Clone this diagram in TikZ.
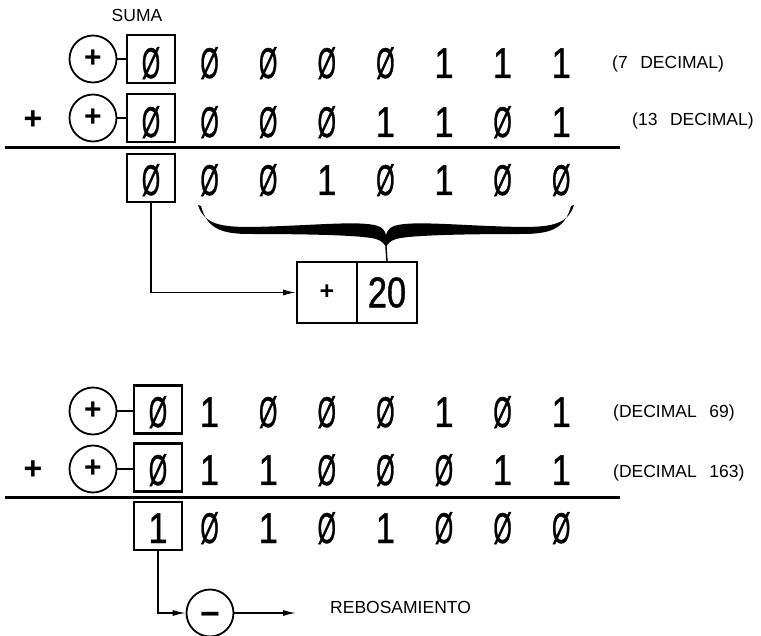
\documentclass[tikz,border=0pt]{standalone}
\usepackage{fontspec}
\usepackage{graphicx}
\setmainfont{Liberation Sans}
\newfontfamily\bitfont[FakeBold=1.1]{Liberation Sans}
\usetikzlibrary{arrows.meta}

% condensed register digits: slashed zero and one
\newcommand\bitz{\scalebox{0.55}[1]{Ø}}
\newcommand\bito{\scalebox{0.8}[1]{1}}
\newcommand\bitof[1]{\ifnum#1=0 \bitz\else\bito\fi}
\newcommand\wsp{\hspace{0.72em}}

\begin{document}
\begin{tikzpicture}[x=1pt,y=-1pt,
  bit/.style={font=\bitfont\fontsize{43}{43}\selectfont, inner sep=0pt, anchor=base},
  reg/.style={draw, line width=2.6pt, minimum width=48pt, minimum height=48pt, inner sep=0pt},
  sgn/.style={draw, circle, line width=1.8pt, minimum size=47pt, inner sep=0pt,
              font=\fontsize{30}{30}\selectfont\bfseries},
  opsign/.style={inner sep=0pt, font=\fontsize{32}{32}\selectfont\bfseries},
  lbl/.style={font=\fontsize{17.5}{18}\selectfont, inner sep=0pt, anchor=base west},
  cell/.style={draw, line width=2pt, minimum width=60pt, minimum height=61pt, inner sep=0pt},
  wire/.style={line width=1.4pt},
  arr/.style={wire, -{Latex[length=13pt,width=6pt]}},
  rule/.style={line width=3pt}
]
\useasboundingbox (0,0) rectangle (761,636);

% ---------- first addition: 7 + 13 ----------
\node[lbl, anchor=base] (suma) at (137,22) {SUMA};

\node[sgn] (s1) at (93,59) {+};
\node[reg] (b1) at (151,59) {};
\node[bit] (r1c0) at (151,78) {\bitz};
\draw[wire] (s1.east) -- (b1.west);
\foreach \v [count=\i] in {0,0,0,0,1,1,1}
  \node[bit] (r1c\i) at ({151+58.6*\i},78) {\bitof{\v}};
\node[lbl] (d7) at (612,69) {(7\wsp DECIMAL)};

\node[opsign] (p1) at (33,120) {+};
\node[sgn] (s2) at (93,118) {+};
\node[reg] (b2) at (151,118) {};
\node[bit] (r2c0) at (151,137) {\bitz};
\draw[wire] (s2.east) -- (b2.west);
\foreach \v [count=\i] in {0,0,0,1,1,0,1}
  \node[bit] (r2c\i) at ({151+58.6*\i},137) {\bitof{\v}};
\node[lbl] (d13) at (632,126) {(13\wsp DECIMAL)};

\draw[rule] (5,148) -- (620,148);

\node[reg] (b3) at (151,178) {};
\node[bit] (r3c0) at (151,195) {\bitz};
\foreach \v [count=\i] in {0,0,1,0,1,0,0}
  \node[bit] (r3c\i) at ({151+58.6*\i},195) {\bitof{\v}};

% brace gathering the seven result bits
\fill (198,205) .. controls (204,224) and (220,227) .. (250,227)
  .. controls (310,226) and (360,220) .. (378,226)
  .. controls (383,228) and (385,231) .. (386,235)
  .. controls (387,231) and (389,228) .. (394,226)
  .. controls (412,220) and (462,226) .. (522,227)
  .. controls (552,227) and (568,224) .. (574,205)
  -- (571,206) .. controls (565,229) and (550,234) .. (522,234)
  .. controls (470,234) and (410,235) .. (396,239)
  .. controls (390,241) and (387,244) .. (386,248)
  .. controls (385,244) and (382,241) .. (376,239)
  .. controls (362,235) and (302,234) .. (250,234)
  .. controls (222,234) and (207,229) .. (201,206) -- cycle;
\coordinate (tip) at (386,247);

% signed result
\node[cell, font=\fontsize{25}{25}\selectfont\bfseries] (res) at (327,292.5) {+};
\node[cell, font=\bitfont\fontsize{43}{43}\selectfont] (val) at (387,292.5) {\scalebox{0.8}[1]{20}};
\draw[wire] (tip) -- (val.north);
\draw[arr] (b3.south) |- (res.west);

% ---------- second addition: 69 + 163 ----------
\node[sgn] (s4) at (93,411) {+};
\node[reg] (b4) at (158,409.5) {};
\node[bit] (r4c0) at (158,427) {\bitz};
\draw[wire] (s4.east) -- (s4.east -| b4.west);
\foreach \v [count=\i] in {1,0,0,0,1,0,1}
  \node[bit] (r4c\i) at ({151+58.6*\i},427) {\bitof{\v}};
\node[lbl] (d69) at (613,418) {(DECIMAL\wsp 69)};

\node[opsign] (p2) at (33,470) {+};
\node[sgn] (s5) at (93,469) {+};
\node[reg] (b5) at (158,467.5) {};
\node[bit] (r5c0) at (158,485) {\bitz};
\draw[wire] (s5.east) -- (s5.east -| b5.west);
\foreach \v [count=\i] in {1,1,0,0,0,1,1}
  \node[bit] (r5c\i) at ({151+58.6*\i},485) {\bitof{\v}};
\node[lbl] (d163) at (613,478) {(DECIMAL\wsp 163)};

\draw[rule] (5,497) -- (620,497);

\node[reg] (b6) at (158,526) {};
\node[bit] (r6c0) at (158,543) {\bito};
\foreach \v [count=\i] in {0,1,0,1,0,0,0}
  \node[bit] (r6c\i) at ({151+58.6*\i},543) {\bitof{\v}};

% overflow
\node[sgn] (neg) at (210,613) {};
\node[inner sep=0pt, anchor=base, font=\fontsize{34}{34}\selectfont\bfseries] (negsign) at (210,625) {−};
\draw[arr] (b6.south) |- (neg.west);
\coordinate (ovf) at (296,613);
\draw[arr] (neg.east) -- (ovf);
\node[lbl] (rebo) at (330,613) {REBOSAMIENTO};
\end{tikzpicture}
\end{document}
